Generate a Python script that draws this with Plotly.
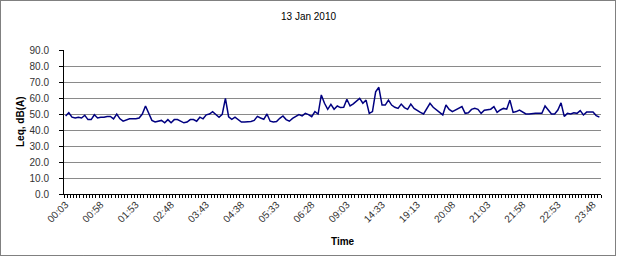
import plotly.graph_objects as go

# Data
leq_values = [
    48.8, 50.8, 48.0, 47.5, 48.0, 47.5, 49.2, 46.5, 46.5, 49.5,
    47.5, 48.0, 48.0, 48.5, 48.5, 47.0, 50.0, 47.0, 45.5, 46.5,
    47.0, 47.0, 47.0, 47.5, 50.0, 55.0, 51.0, 46.0, 45.0, 45.5,
    46.0, 44.5, 46.5, 44.5, 46.5, 46.5, 45.5, 44.5, 45.0, 46.5,
    46.5, 45.5, 48.0, 47.0, 49.5, 50.0, 51.5, 49.5, 48.0, 49.8,
    59.8, 48.3, 46.7, 48.0, 46.3, 45.0, 45.0, 45.0, 45.3, 46.0,
    48.5, 47.5, 46.7, 50.0, 45.5, 45.0, 45.3, 47.3, 48.8, 46.5,
    45.5, 47.3, 48.5, 49.6, 48.8, 50.4, 49.6, 48.3, 51.5, 50.0,
    61.9, 56.7, 52.9, 56.0, 53.0, 55.0, 54.0, 54.2, 59.2, 55.0,
    56.3, 58.3, 59.8, 56.7, 58.7, 50.4, 51.5, 63.9, 66.7, 55.6,
    55.6, 58.7, 55.6, 54.2, 53.5, 56.2, 54.0, 52.9, 56.2, 53.5,
    52.1, 51.0, 50.0, 53.5, 56.7, 54.2, 52.5, 51.0, 49.4, 55.6,
    52.9, 51.5, 52.5, 53.5, 54.6, 50.4, 50.8, 52.9, 53.5, 52.9,
    50.4, 52.3, 52.5, 53.0, 54.6, 51.0, 52.5, 53.5, 53.0, 58.7,
    51.0, 51.5, 52.5, 51.5, 50.0, 50.0, 50.4, 50.4, 50.4, 50.4,
    55.0, 52.1, 50.0, 50.0, 52.5, 57.0, 48.5, 50.4, 50.0, 50.8,
    50.4, 52.1, 49.4, 51.2, 51.0, 51.2, 49.0, 48.0,
]
tick_labels = ["00:03", "00:58", "01:53", "02:48", "03:43", "04:38", "05:33", "06:28",
               "09:03", "14:33", "19:13", "20:08", "21:03", "21:58", "22:53", "23:48"]
label_step = 11
y_ticks = [0, 10, 20, 30, 40, 50, 60, 70, 80, 90]

W, H = 617, 257
L, R, T, B = 64, 16, 50, 63
PW, PH = W - L - R, H - T - B

def px_x(x):
    return (x - L) / PW

def px_y(y):
    return (H - B - y) / PH

n = len(leq_values)
xs = list(range(n))
tickvals = [i * label_step for i in range(len(tick_labels))]

FONT = "Liberation Sans, Arial, sans-serif"

fig = go.Figure()
fig.add_trace(go.Scatter(x=xs, y=leq_values, mode="lines",
                         line=dict(color="#000080", width=1.5),
                         hoverinfo="skip", showlegend=False))

fig.update_layout(
    width=W, height=H,
    margin=dict(l=L, r=R, t=T, b=B, pad=0),
    paper_bgcolor="white", plot_bgcolor="white",
    font=dict(family=FONT, size=10, color="#333"),
    showlegend=False,
)

fig.update_xaxes(
    range=[-0.5, n - 0.5],
    tickmode="array", tickvals=tickvals, ticktext=tick_labels,
    tickangle=-45, ticks="", showgrid=False,
    showline=True, linecolor="black", linewidth=1,
    tickfont=dict(family=FONT, size=10, color="#333"),
    minor=dict(tickmode="linear", tick0=-0.5, dtick=1, ticks="outside",
               ticklen=3, tickcolor="black", tickwidth=1, showgrid=False),
    zeroline=False,
)
fig.update_yaxes(
    range=[0, 90], tickmode="array", tickvals=y_ticks,
    tickformat=".1f",
    ticks="outside", ticklen=4, tickcolor="black",
    showline=True, linecolor="black", linewidth=1,
    showgrid=True, gridcolor="#8a8a8a", gridwidth=1,
    zeroline=False,
    ticklabelstandoff=8,
    tickfont=dict(family=FONT, size=10, color="#333"),
)

annotations = [
    dict(text="13 Jan 2010", x=px_x(308), y=px_y(17), xref="paper", yref="paper",
         showarrow=False, font=dict(family=FONT, size=10, color="black"),
         xanchor="center", yanchor="middle"),
    dict(text="<b>Leq, dB(A)</b>", x=px_x(20), y=px_y(122), xref="paper", yref="paper",
         showarrow=False, textangle=-90, font=dict(family=FONT, size=10, color="black"),
         xanchor="center", yanchor="middle"),
    dict(text="<b>Time</b>", x=px_x(343), y=px_y(241), xref="paper", yref="paper",
         showarrow=False, font=dict(family=FONT, size=10, color="black"),
         xanchor="center", yanchor="middle"),
]
fig.update_layout(annotations=annotations)

# Dotted outer chart border
fig.add_shape(type="rect", xref="paper", yref="paper",
              x0=px_x(0.5), x1=px_x(W - 1.5), y0=px_y(H - 1.5), y1=px_y(0.5),
              line=dict(color="black", width=1, dash="1px,1px"), layer="above")

fig.write_html("out.html")
